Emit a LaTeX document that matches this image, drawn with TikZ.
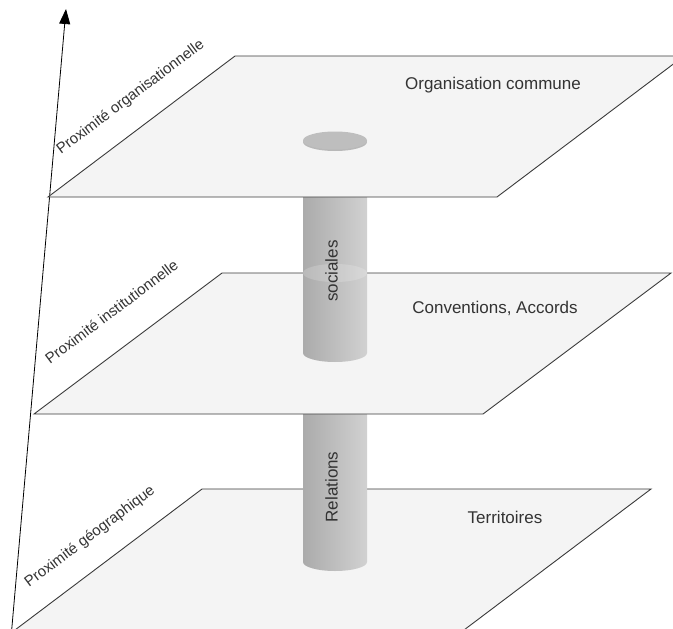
\documentclass[tikz,border=0pt]{standalone}
\usepackage{fontspec}
\setmainfont{Liberation Sans}
\usetikzlibrary{arrows.meta}
\definecolor{planegray}{HTML}{F4F4F4}
\definecolor{edgegray}{HTML}{3A3A3A}
\definecolor{textgray}{HTML}{333333}
\definecolor{diskgray}{HTML}{BEBEBE}

\tikzset{
	plane/.style={fill=planegray,draw=edgegray,line width=0.9pt},
	lvl/.style={text=textgray,font=\fontsize{17}{20}\selectfont,inner sep=0pt},
	prox/.style={text=textgray,font=\fontsize{15}{18}\selectfont,inner sep=0pt,anchor=base west,rotate=37},
	cyl/.style={left color=black!33,middle color=black!21,right color=black!18}
}

\begin{document}
\begin{tikzpicture}[x=1pt,y=-1pt]
\useasboundingbox (0,0) rectangle (673,629);
\clip (0,0) rectangle (673,629);
% axe
\coordinate (O) at (11.5,632);
\coordinate (T) at (66,9);
\draw[line width=0.8pt,-{Triangle[length=15pt,width=11pt]}] (O) -- (T);
% niveau bas
\begin{scope}[shift={(15,630)}]
	\coordinate (A) at (0,0);
	\coordinate (B) at (449,0);
	\coordinate (C) at (636,-141);
	\coordinate (D) at (187,-141);
	\draw[plane] (A) -- (B) -- (C) -- (D) -- cycle;
\end{scope}
\node[lvl,anchor=base] (terr) at (505,523) {Territoires};
\node[prox] (pgeo) at (29,588) {Proximité géographique};
\shade[cyl] (303,414) -- (303,562) arc[start angle=180,end angle=360,x radius=32pt,y radius=9pt] -- (367,414) -- cycle;
\node[lvl,rotate=90,anchor=base] (rel) at (337.5,487) {Relations};
% niveau milieu
\begin{scope}[shift={(34,414)}]
	\coordinate (A) at (0,0);
	\coordinate (B) at (449,0);
	\coordinate (C) at (637,-141);
	\coordinate (D) at (188,-141);
	\draw[plane] (A) -- (B) -- (C) -- (D) -- cycle;
\end{scope}
\node[lvl,anchor=base] (conv) at (495,313) {Conventions, Accords};
\node[prox] (pinst) at (50,365) {Proximité institutionnelle};
\shade[cyl] (303,197) -- (303,353) arc[start angle=180,end angle=360,x radius=32pt,y radius=9pt] -- (367,197) -- cycle;
\fill[white,opacity=0.18] (335,273) ellipse [x radius=32pt,y radius=9pt];
\node[lvl,rotate=90,anchor=base] (soc) at (337.5,271) {sociales};
% niveau haut
\begin{scope}[shift={(48,197)}]
	\coordinate (A) at (0,0);
	\coordinate (B) at (449,0);
	\coordinate (C) at (636,-141);
	\coordinate (D) at (187,-141);
	\draw[plane] (A) -- (B) -- (C) -- (D) -- cycle;
\end{scope}
\fill[black!28] (335,142) ellipse [x radius=32pt,y radius=9pt];
\fill[diskgray] (335,140.5) ellipse [x radius=32pt,y radius=9pt];
\node[lvl,anchor=base] (orga) at (493,89) {Organisation commune};
\node[prox] (porg) at (61,155) {Proximité organisationnelle};
\end{tikzpicture}
\end{document}
